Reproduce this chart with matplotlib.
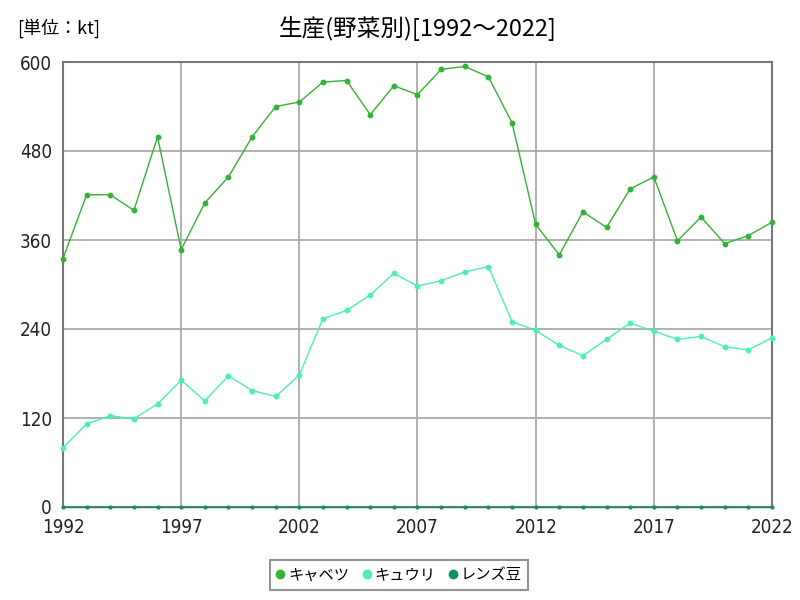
import matplotlib
matplotlib.use("Agg")
import matplotlib.pyplot as plt

plt.rcParams['font.family'] = ['Noto Sans CJK JP', 'DejaVu Sans']

years = list(range(1992, 2023))
cabbage = [335, 421, 421, 400, 499, 347, 410, 445, 499, 540, 546, 573, 575, 529, 568, 556,
           590, 594, 580, 518, 381, 340, 398, 377, 429, 445, 359, 391, 355, 366, 384]
cucumber = [80, 112, 123, 119, 139, 171, 143, 177, 157, 149, 178, 254, 265, 286, 315, 298,
            305, 317, 324, 250, 238, 218, 204, 226, 248, 237, 226, 230, 216, 212, 228]
lentil = [0] * 31
series_names = ['キャベツ', 'キュウリ', 'レンズ豆']
colors = ['#33b233', '#4cf0b0', '#139060']
msizes = [3.2, 3.2, 2.0]
xticks = [1992, 1997, 2002, 2007, 2012, 2017, 2022]
yticks = [0, 120, 240, 360, 480, 600]

fig = plt.figure(figsize=(8, 6), dpi=100)
ax = fig.add_axes([63/800, 93/600, 709/800, 445/600])

for vals, name, c, ms in zip([cabbage, cucumber, lentil], series_names, colors, msizes):
    ax.plot(years, vals, color=c, linewidth=1.0, marker='o', markersize=ms,
            label=name, clip_on=False, zorder=3)

ax.set_xlim(1992, 2022)
ax.set_ylim(0, 600)
ax.set_xticks(xticks)
ax.set_yticks(yticks)
ax.grid(True, color='#aaaaaa', linewidth=1.3)
ax.set_axisbelow(True)
for s in ax.spines.values():
    s.set_color('#777777')
    s.set_linewidth(1.5)
ax.tick_params(length=0, pad=8, colors='#222222')
for lbl in ax.get_xticklabels() + ax.get_yticklabels():
    lbl.set_fontfamily(['DejaVu Sans'])
    lbl.set_fontstretch('condensed')
    lbl.set_fontsize(13.5)

fig.text(418/800, 1 - 28/600, '生産(野菜別)[1992～2022]', ha='center', va='center', fontsize=17)
fig.text(17/800, 1 - 28/600, '[単位：kt]', ha='left', va='center', fontsize=13)

leg = fig.legend(loc='center', bbox_to_anchor=(399/800, 1 - 575/600), ncol=3,
                 frameon=True, fancybox=False, handlelength=0.5, handletextpad=0.25,
                 columnspacing=0.9, fontsize=11, borderpad=0.45)
for h in leg.legend_handles:
    h.set_linestyle('None')
    h.set_markersize(6)
leg.get_frame().set_edgecolor('#777777')
leg.get_frame().set_linewidth(1.5)

fig.savefig('out.png', dpi=100)
